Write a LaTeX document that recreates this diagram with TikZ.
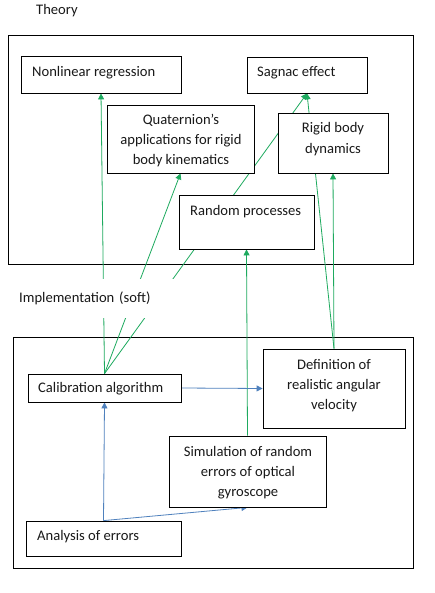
\documentclass[tikz,border=0pt]{standalone}
\usepackage{fontspec}
\setmainfont{Carlito}
\usetikzlibrary{arrows.meta}
\definecolor{gline}{RGB}{30,170,95}
\definecolor{bline}{RGB}{79,129,189}
\pgfdeclarelayer{bg}
\pgfsetlayers{bg,main}
\begin{document}
\begin{tikzpicture}[x=1pt,y=-1pt,
  box/.style={draw=black,fill=white,line width=0.8pt,inner sep=0pt,rectangle},
  txt/.style={inner sep=0pt,font=\fontsize{14.6}{20.3}\selectfont,text=black!90},
  ml/.style={txt,align=center},
  garrow/.style={draw=gline,line width=0.8pt,-{Triangle[length=6pt,width=6pt]}},
  barrow/.style={draw=bline,line width=0.8pt,-{Triangle[length=6pt,width=6pt]}},
  frame/.style={draw=black,line width=0.8pt}]
\useasboundingbox (0,0) rectangle (435,593);
% boxes
\node[box,minimum width=160,minimum height=37] (nr) at (101,74.5) {};
\node[box,minimum width=120,minimum height=36] (sg) at (307,75) {};
\node[box,minimum width=147,minimum height=68] (qt) at (180.5,139) {};
\node[box,minimum width=110,minimum height=60] (rb) at (333,143) {};
\node[box,minimum width=135,minimum height=54] (rp) at (246.5,222) {};
\node[box,minimum width=153,minimum height=28] (cal) at (104.5,388) {};
\node[box,minimum width=142,minimum height=79] (df) at (334,388.5) {};
\node[box,minimum width=157,minimum height=71] (sim) at (247.5,471.5) {};
\node[box,minimum width=155,minimum height=35] (ana) at (103.5,538.5) {};
% texts
\node[txt,anchor=west] (theory) at (36,10.5) {Theory};
\node[txt,anchor=west] (nrt) at (32,72.5) {Nonlinear regression};
\node[txt,anchor=west] (sgt) at (257,72.5) {Sagnac effect};
\node[ml] (qtt) at (181,140.5) {Quaternion’s\\applications for rigid\\body kinematics};
\node[ml] (rbt) at (333,139) {Rigid body\\dynamics};
\node[txt,anchor=west] (rpt) at (190,211.5) {Random processes};
\node[txt,anchor=west,fill=white,minimum height=39,text width=180,align=left] (impl) at (19,298) {Implementation (soft)};
\node[txt,anchor=west] (calt) at (38,388.5) {Calibration algorithm};
\node[ml] (dft) at (334,385.5) {Definition of\\realistic angular\\velocity};
\node[ml] (simt) at (248,472.5) {Simulation of random\\errors of optical\\gyroscope};
\node[txt,anchor=west] (anat) at (37,536.5) {Analysis of errors};
\begin{pgfonlayer}{bg}
\fill[white] (0,0) rectangle (435,593);
\draw[frame] (8,35) rectangle (413,264);
\draw[frame] (13,337) rectangle (413,568);
\draw[garrow] (cal.north) -- (nr.south);
\draw[garrow] (cal.north) -- (qt.south);
\draw[garrow] (cal.north) -- (sg.south);
\draw[garrow] (df.north) -- (sg.south);
\draw[garrow] (df.north) -- (rb.south);
\draw[garrow] (sim.north) -- (rp.south);
\draw[barrow] (cal.east) -- (df.west);
\draw[barrow] (ana.north) -- (cal.south);
\draw[barrow] (ana.north) -- (sim.south);
\end{pgfonlayer}
\end{tikzpicture}
\end{document}
